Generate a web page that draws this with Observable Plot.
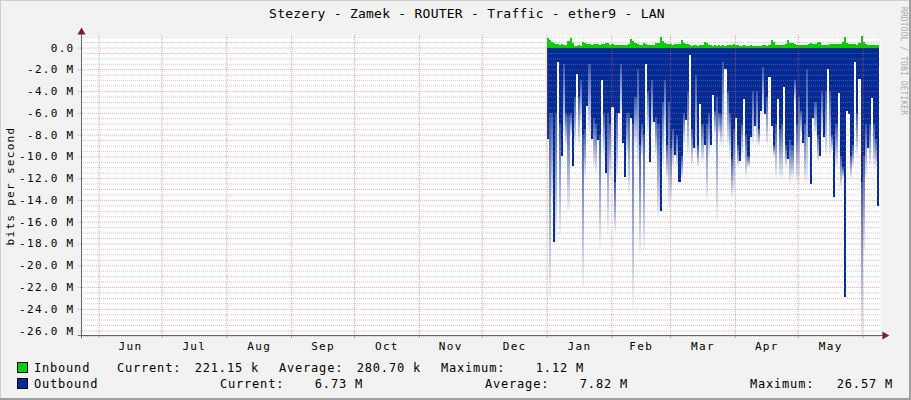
<!DOCTYPE html>
<html><head><meta charset="utf-8">
<script src="https://cdn.jsdelivr.net/npm/d3@7"></script>
<script src="https://cdn.jsdelivr.net/npm/@observablehq/plot@0.6"></script>
<style>
html,body{margin:0;padding:0;background:#f2f2f2;}
#chart{position:relative;width:911px;height:400px;background:#f2f2f2;overflow:hidden;font-family:"DejaVu Sans Mono",monospace;color:#000;}
#chart svg{position:absolute;left:0;top:0;}
.t{position:absolute;white-space:pre;font-size:12px;line-height:14px;letter-spacing:0.8px;}
.r{text-align:right;}
.sw{position:absolute;width:9px;height:9px;border:1px solid #000;}
.title{position:absolute;left:0;top:6px;width:934px;text-align:center;font-size:13px;line-height:16px;letter-spacing:0.25px;white-space:pre;}
.ylab{position:absolute;left:10px;top:186px;transform:translate(-50%,-50%) rotate(-90deg);font-size:11px;letter-spacing:1.3px;white-space:pre;}
.credit{position:absolute;left:899px;top:7px;writing-mode:vertical-rl;font-size:8px;letter-spacing:0.1px;color:#ababab;white-space:pre;}
.bd{position:absolute;}
</style></head><body><div id="chart"></div><script>
// ---- data (values in M bits/s, one per day from 2015-01-01) ----
const outSolid = [8.4,6,6,17.9,6,1.3,7,10,1.5,6,6.2,6,10.9,4.5,2.4,4.5,3,8,7.5,5.4,1.5,8.4,6.5,7,8.5,8,3,6,11.5,6,7,5.5,12.4,6,6,1.5,8.8,
 11.9,6,6,6.5,7,4.5,2,9,7,8,1.5,4,10.5,3,6.8,6.4,7,15,5,3,9,5,9.2,7.5,9.9,8,12.4,10,6,6.7,4,0.7,7.5,9.2,2.5,9,5.2,7,9,7,6,
 9,4.4,5.8,4.5,6,6.1,1.3,2,4,6,10.2,7.5,6.5,9,10.4,7,4.7,8,10,8.2,4,7.2,4,7.5,5.8,1.8,6.1,4.5,2.7,7.2,9,7,4.7,7.5,7,3.6,9,10.2,8.5,9,3,
 7,4.5,5.8,8.8,7,2,8.2,12.5,6.5,5,8,10,4,8.2,4,2,4,8,13.7,7,4.2,10,11,22.9,5.8,6.1,10,9,1.3,6,2.9,12.4,10,7,9.2,7,4.6,7,8.4,14.6];
const outTip = [8.4,23,14,17.9,17.5,1.3,17.5,10,8,9,15,8,10.9,9,2.4,9,7,22,12,5.4,8,8.4,11,11.5,8.5,18.4,3,10,11.5,17,12,5.5,17,12,6,6,8.8,
 11.9,10,13.5,6.5,24,9,11,19,10,18.7,1.5,8,10.5,7.5,6.8,10,15.6,15,11,8,12,15,14,11,9.9,11,12.4,12,9,6.7,10,0.7,11,9.2,10,11,5.2,10.5,9,14,10,
 9,4.4,8,16,8,9,9,2,9,10,13.8,13.5,6.5,11,10.4,10,4.7,12,11,8.2,9,7.2,9,9,5.8,6,6.1,9,2.7,7.2,10,12,4.7,12,12,3.6,11,10.2,12.5,12,5,
 12.5,12.5,8,8.8,12.5,12.5,8.2,12.5,6.5,8,10.5,10,8,8.2,10,2,10,9.5,13.7,11,4.2,13,12,22.9,5.8,6.1,12,11,1.3,10,2.9,26.57,19,12,9.2,11,4.6,11,11,14.6];
const inbound = [0.85,0.7,0.5,0.45,0.3,0.3,0.25,0.3,0.25,0.2,0.6,0.85,0.4,0.15,0.15,0.2,0.15,0.55,0.45,0.3,0.35,0.25,0.3,0.35,0.3,0.25,0.3,0.35,0.45,0.4,0.2,0.3,0.25,0.2,0.2,0.25,0.2,
 0.25,0.25,0.3,0.75,0.6,0.4,0.35,0.2,0.2,0.4,0.35,0.25,0.25,0.2,0.25,0.4,0.45,1.0,0.6,0.45,0.35,0.3,0.3,0.25,0.3,0.3,0.3,0.7,0.45,0.3,0.3,0.2,0.15,0.2,0.2,0.15,0.2,0.25,0.5,0.45,0.2,
 0.2,0.15,0.2,0.15,0.2,0.15,0.2,0.15,0.2,0.25,0.25,0.3,0.25,0.2,0.15,0.15,0.2,0.15,0.15,0.2,0.15,0.15,0.1,0.15,0.15,0.2,0.2,0.15,0.2,0.65,0.5,0.25,0.2,0.25,0.2,0.25,0.3,0.7,0.45,0.4,0.35,
 0.2,0.25,0.25,0.2,0.25,0.2,0.3,0.45,0.3,0.3,0.55,0.5,0.25,0.2,0.25,0.2,0.3,0.3,0.35,0.3,0.35,0.3,0.5,0.95,0.4,0.3,0.3,0.35,0.3,0.2,0.45,1.1,0.5,0.3,0.25,0.2,0.25,0.2,0.2,0.22];
const startDay = "2015-01-01";
const yTicks = [0,-2,-4,-6,-8,-10,-12,-14,-16,-18,-20,-22,-24,-26];
const yMinor = [1,0.5,-0.5,-1,-1.5,-2.5,-3,-3.5,-4.5,-5,-5.5,-6.5,-7,-7.5,-8.5,-9,-9.5,-10.5,-11,-11.5,-12.5,-13,-13.5,-14.5,-15,-15.5,-16.5,-17,-17.5,-18.5,-19,-19.5,-20.5,-21,-21.5,-22.5,-23,-23.5,-24.5,-25,-25.5,-26.5];
const monthStarts = ["2014-06-01","2014-07-01","2014-08-01","2014-09-01","2014-10-01","2014-11-01","2014-12-01","2015-01-01","2015-02-01","2015-03-01","2015-04-01","2015-05-01","2015-06-01"];
const xDomainStr = ["2014-05-23T14:24:00Z","2015-06-09T07:12:00Z"];
const yDomain = [-26.41, 1.15];
const legendRows = [
  {name:"Inbound", color:"#00cf00", cur:"221.15 k", avg:"280.70 k", max:"1.12 M"},
  {name:"Outbound", color:"#002a97", cur:"6.73 M", avg:"7.82 M", max:"26.57 M"}
];
const titleText = "Stezery - Zamek - ROUTER - Traffic - ether9 - LAN";

// ---- build ----
const BLUE = "#002a97", GREEN = "#00cf00";
const DAY = 864e5;
const t0 = new Date(startDay + "T00:00:00Z").getTime();
const rows = outSolid.map((s,i)=>({x1:new Date(t0+i*DAY), x2:new Date(t0+(i+1)*DAY), s, t:outTip[i], inb:inbound[i]}));
const xDomain = xDomainStr.map(s=>new Date(s));
const months = monthStarts.map(s=>new Date(s+"T00:00:00Z"));
const monthMids = months.slice(0,-1).map((m,i)=>new Date((m.getTime()+months[i+1].getTime())/2));
const xAxisStart = new Date(xDomain[0].getTime()-1.5*DAY);
const xAxisEnd = new Date(xDomain[1].getTime()+2*DAY);
const MAJ = "rgba(230,90,90,0.55)", MIN = "rgba(150,150,150,0.5)";

const plot = Plot.plot({
  width: 911, height: 360,
  marginTop: 35, marginBottom: 25, marginLeft: 81, marginRight: 31,
  x: {type:"utc", domain:xDomain, axis:null},
  y: {domain:yDomain, axis:null},
  style: {background:"transparent", fontFamily:"DejaVu Sans Mono", fontSize:"11px", letterSpacing:"1.3px", color:"#000", overflow:"visible"},
  marks: [
    Plot.frame({fill:"#fff", stroke:"none"}),
    Plot.rectY(rows, {x1:"x1", x2:"x2", y1:0, y2:"inb", fill:GREEN, shapeRendering:"crispEdges"}),
    Plot.rectY(rows, {x1:"x1", x2:"x2", y1:0, y2:d=>-d.s, fill:BLUE, shapeRendering:"crispEdges"}),
    Plot.rectY(rows, {x1:"x1", x2:"x2", y1:d=>-d.s, y2:d=>-d.t, fill:"url(#fadeOut)", shapeRendering:"crispEdges"}),
    Plot.ruleY(yMinor, {stroke:MIN, strokeDasharray:"1,1"}),
    Plot.ruleY(yTicks, {x1:()=>xAxisStart, x2:()=>xDomain[1], stroke:MAJ, strokeDasharray:"1,1"}),
    Plot.ruleX(months, {stroke:MAJ, strokeDasharray:"1,1"}),
    Plot.ruleX(months, {y1:yDomain[0], y2:yDomain[0]-0.3, stroke:MAJ}),
    Plot.ruleY([yDomain[0]], {x1:()=>xAxisStart, x2:()=>xAxisEnd, stroke:"#666"}),
    Plot.ruleX([xDomain[0]], {y1:yDomain[0]-0.3, y2:yDomain[1]+0.25, stroke:"#666"}),
    Plot.dot([{x:xDomain[0], y:yDomain[1]+0.3}], {x:"x", y:"y", symbol:"triangle", r:3, fill:"#801f1f", stroke:null}),
    Plot.dot([{x:xAxisEnd, y:yDomain[0]}], {x:"x", y:"y", symbol:"triangle", r:3, rotate:90, fill:"#801f1f", stroke:null}),
    Plot.axisY(yTicks, {tickSize:0, tickPadding:7, label:null, tickFormat:v=>v===0?"0.0":v.toFixed(1)+" M"}),
    Plot.axisX(monthMids, {tickSize:0, tickPadding:7, label:null, tickFormat:d3.utcFormat("%b")})
  ]
});

const svg = d3.select(plot);
const defs = svg.insert("defs", ":first-child");
const g = defs.append("linearGradient").attr("id","fadeOut").attr("x1",0).attr("y1",0).attr("x2",0).attr("y2",1);
g.append("stop").attr("offset","0%").attr("stop-color",BLUE).attr("stop-opacity",0.8);
g.append("stop").attr("offset","100%").attr("stop-color",BLUE).attr("stop-opacity",0.04);

const chart = document.getElementById("chart");
chart.appendChild(plot);

function addDiv(cls, text, css){ const d=document.createElement("div"); d.className=cls; if(text!=null) d.textContent=text; Object.assign(d.style, css||{}); chart.appendChild(d); return d; }
addDiv("title", titleText);
addDiv("ylab", "bits per second");
addDiv("credit", "RRDTOOL / TOBI OETIKER");

// legend
const lay = [
  {top:361, name:34, curL:117, curR:259, avgL:279, avgR:421, maxL:441, maxR:584},
  {top:377, name:34, curL:220, curR:363, avgL:485, avgR:628, maxL:750, maxR:893}
];
legendRows.forEach((r,i)=>{
  const L = lay[i];
  addDiv("sw", null, {left:"17px", top:(L.top+1)+"px", background:r.color});
  addDiv("t", r.name, {left:L.name+"px", top:L.top+"px"});
  addDiv("t", "Current:", {left:L.curL+"px", top:L.top+"px"});
  addDiv("t r", r.cur, {right:(911-L.curR)+"px", top:L.top+"px"});
  addDiv("t", "Average:", {left:L.avgL+"px", top:L.top+"px"});
  addDiv("t r", r.avg, {right:(911-L.avgR)+"px", top:L.top+"px"});
  addDiv("t", "Maximum:", {left:L.maxL+"px", top:L.top+"px"});
  addDiv("t r", r.max, {right:(911-L.maxR)+"px", top:L.top+"px"});
});
// 3D border
addDiv("bd", null, {left:"0", top:"0", width:"911px", height:"1px", background:"#cfcfcf"});
addDiv("bd", null, {left:"0", top:"0", width:"1px", height:"400px", background:"#cfcfcf"});
addDiv("bd", null, {left:"0", top:"398px", width:"911px", height:"2px", background:"#9e9e9e"});
addDiv("bd", null, {left:"909px", top:"0", width:"2px", height:"400px", background:"#9e9e9e"});
</script></body></html>
